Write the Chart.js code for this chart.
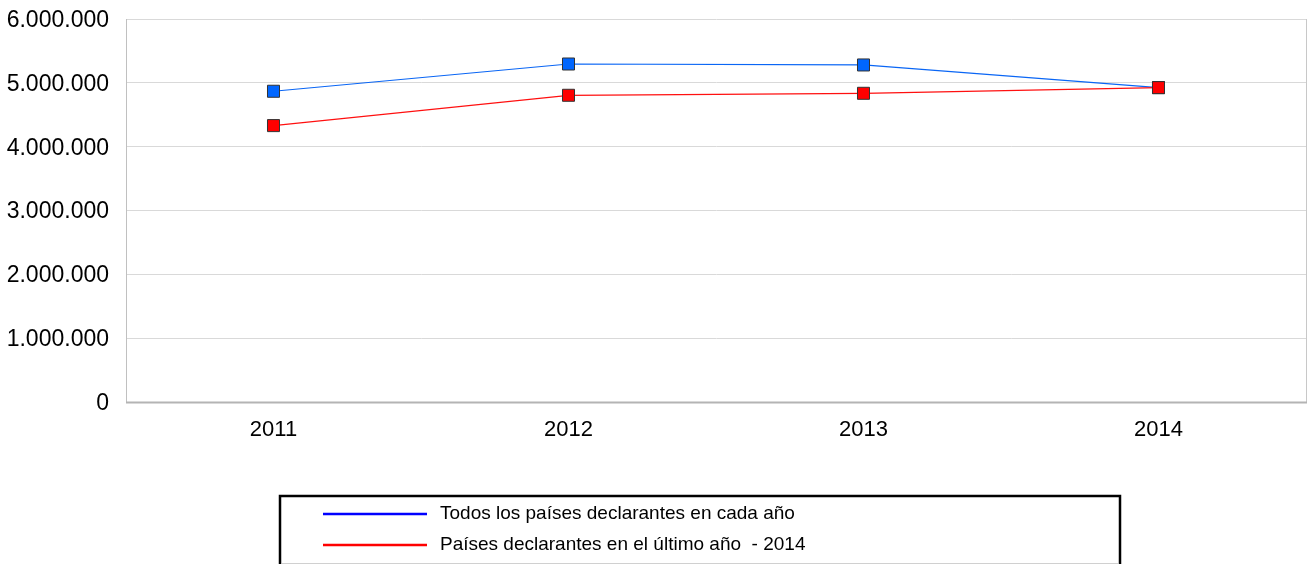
<!DOCTYPE html>
<html>
<head>
<meta charset="utf-8">
<script src="https://cdn.jsdelivr.net/npm/chart.js@4.4.1/dist/chart.umd.min.js"></script>
<style>
  html, body { margin: 0; padding: 0; background: #ffffff; }
  #wrap { width: 1308px; height: 564px; position: relative; }
</style>
</head>
<body>
<div id="wrap"><canvas id="c" width="1308" height="564"></canvas></div>
<script>
const categories = ['2011', '2012', '2013', '2014'];
const seriesTodos = [4868000, 5295000, 5280000, 4925000];
const seriesUltimo = [4330000, 4805000, 4836000, 4925000];
const seriesNames = ['Todos los países declarantes en cada año', 'Países declarantes en el último año  - 2014'];
const yTicks = [0, 1000000, 2000000, 3000000, 4000000, 5000000, 6000000];

function fmt(v) {
  return String(Math.round(v)).replace(/\B(?=(\d{3})+(?!\d))/g, '.');
}

const frameAndLegend = {
  id: 'frameAndLegend',
  beforeDatasetsDraw(chart) {
    const { ctx, chartArea: a } = chart;
    ctx.save();
    ctx.strokeStyle = '#c8c8c8';
    ctx.lineWidth = 1;
    ctx.beginPath();
    ctx.moveTo(a.right + 0.5, a.top);
    ctx.lineTo(a.right + 0.5, a.bottom);
    ctx.stroke();
    ctx.strokeStyle = '#b4b4b4';
    ctx.lineWidth = 2;
    ctx.beginPath();
    ctx.moveTo(a.left, a.bottom + 0.5);
    ctx.lineTo(a.right + 1, a.bottom + 0.5);
    ctx.stroke();
    ctx.restore();
  },
  afterDraw(chart) {
    const { ctx } = chart;
    ctx.save();
    const bx = 280, by = 496, bw = 840, bh = 80;
    ctx.strokeStyle = '#000000';
    ctx.lineWidth = 2.5;
    ctx.strokeRect(bx, by, bw, bh);
    ctx.strokeStyle = '#d0d0d0';
    ctx.lineWidth = 1;
    ctx.beginPath();
    ctx.moveTo(bx + 2, 563.5);
    ctx.lineTo(bx + bw - 2, 563.5);
    ctx.stroke();
    const legendColors = ['#0000ff', '#ff0000'];
    const rows = [514, 545];
    ctx.font = '19px "Liberation Sans", Arial, sans-serif';
    ctx.textBaseline = 'middle';
    ctx.fillStyle = '#000000';
    seriesNames.forEach((name, i) => {
      ctx.strokeStyle = legendColors[i];
      ctx.lineWidth = 2.5;
      ctx.beginPath();
      ctx.moveTo(323, rows[i]);
      ctx.lineTo(427, rows[i]);
      ctx.stroke();
      ctx.fillText(name, 440, rows[i]);
    });
    ctx.restore();
  }
};

function zeroPad(scale) {
  scale.paddingTop = 0;
  scale.paddingBottom = 0;
  scale.paddingLeft = 0;
  scale.paddingRight = 0;
}

new Chart(document.getElementById('c'), {
  type: 'line',
  data: {
    labels: categories,
    datasets: [
      {
        label: seriesNames[0],
        data: seriesTodos,
        borderColor: '#0a66f5',
        backgroundColor: '#0066ff',
        pointBackgroundColor: '#0066ff',
        pointBorderColor: '#333333',
        pointBorderWidth: 1,
        pointStyle: 'rect',
        pointRadius: 8.5,
        borderWidth: 1.2,
        tension: 0,
        order: 1
      },
      {
        label: seriesNames[1],
        data: seriesUltimo,
        borderColor: '#ff1010',
        backgroundColor: '#ff0000',
        pointBackgroundColor: '#ff0000',
        pointBorderColor: '#333333',
        pointBorderWidth: 1,
        pointStyle: 'rect',
        pointRadius: 8.5,
        borderWidth: 1.2,
        tension: 0,
        order: 0
      }
    ]
  },
  options: {
    responsive: false,
    animation: false,
    devicePixelRatio: 1,
    layout: { autoPadding: false, padding: { top: 19, right: 2, bottom: 0, left: 0 } },
    plugins: {
      legend: { display: false },
      tooltip: { enabled: false }
    },
    scales: {
      x: {
        type: 'category',
        offset: true,
        grid: { display: false, drawTicks: false },
        border: { display: false },
        ticks: {
          color: '#000000',
          font: { family: '"Liberation Sans", Arial, sans-serif', size: 22 },
          padding: 15,
          maxRotation: 0
        },
        afterFit(scale) { scale.height = 162; zeroPad(scale); }
      },
      y: {
        min: 0,
        max: 6000000,
        afterBuildTicks(scale) { scale.ticks = yTicks.map(v => ({ value: v })); },
        grid: { color: '#d9d9d9', lineWidth: 1, drawTicks: false },
        border: { display: true, color: '#c0c0c0', width: 1 },
        ticks: {
          color: '#000000',
          font: { family: '"Liberation Sans", Arial, sans-serif', size: 23 },
          padding: 17,
          labelOffset: 1.5,
          callback: (v) => fmt(v)
        },
        afterFit(scale) { scale.width = 126; zeroPad(scale); }
      }
    }
  },
  plugins: [frameAndLegend]
});
</script>
</body>
</html>
